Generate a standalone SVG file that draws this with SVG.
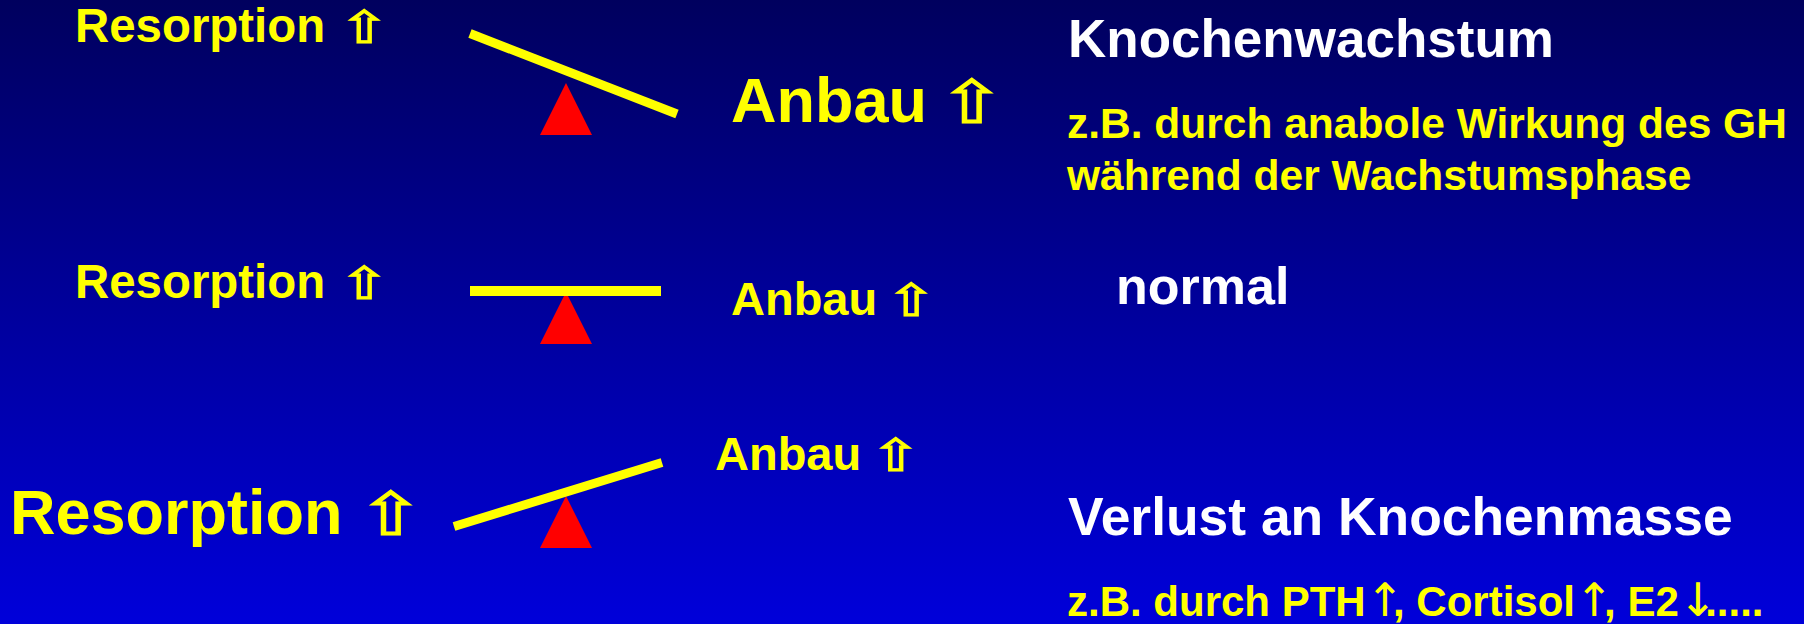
<svg xmlns="http://www.w3.org/2000/svg" width="1804" height="624" viewBox="0 0 1804 624">
  <defs>
    <linearGradient id="bg" x1="0" y1="0" x2="0" y2="1">
      <stop offset="0" stop-color="#00005E"/>
      <stop offset="1" stop-color="#0000DA"/>
    </linearGradient>
    <style>
      .t { font-family: "Liberation Sans", Arial, sans-serif; font-weight: bold; }
      .y { fill: #FFFF00; }
      .w { fill: #FFFFFF; }
      .arr { font-family: "DejaVu Sans", sans-serif; font-weight: normal; fill: #FFFF00; stroke: #FFFF00; stroke-width: 1.1; stroke-linejoin: miter; text-anchor: middle; }
      .sym { font-family: "DejaVu Sans", sans-serif; font-weight: normal; font-size: 46px; }
      .beam { stroke: #FFFF00; stroke-width: 9; stroke-linecap: butt; fill: none; }
      .pivot { fill: #FF0000; }
    </style>
  </defs>

  <rect x="0" y="0" width="1804" height="624" fill="url(#bg)"/>

  <!-- Row 1: formation outweighs resorption -->
  <g id="row-growth">
    <g id="growth-resorption">
      <text class="t y" x="75" y="42" font-size="47.4">Resorption</text>
      <text class="arr" transform="translate(364,42.5) scale(1.35,1)" font-size="44.6">⇧</text>
    </g>
    <g id="growth-seesaw">
      <polygon class="pivot" points="566,83 592,135 540,135"/>
      <line class="beam" x1="470" y1="33.5" x2="677" y2="114"/>
    </g>
    <g id="growth-anbau">
      <text class="t y" x="731" y="122" font-size="63">Anbau</text>
      <text class="arr" transform="translate(972,122.5) scale(1.35,1)" font-size="60">⇧</text>
    </g>
    <g id="growth-label">
      <text class="t w" x="1068" y="57" font-size="53">Knochenwachstum</text>
      <text class="t y" x="1067" y="138" font-size="42.5">z.B. durch anabole Wirkung des GH</text>
      <text class="t y" x="1067" y="190" font-size="42.5">während der Wachstumsphase</text>
    </g>
  </g>

  <!-- Row 2: balanced turnover -->
  <g id="row-normal">
    <g id="normal-resorption">
      <text class="t y" x="75" y="298" font-size="47.4">Resorption</text>
      <text class="arr" transform="translate(364,298.5) scale(1.35,1)" font-size="44.6">⇧</text>
    </g>
    <g id="normal-seesaw">
      <polygon class="pivot" points="566,292 592,344 540,344"/>
      <rect x="470" y="286" width="191" height="10" fill="#FFFF00"/>
    </g>
    <g id="normal-anbau">
      <text class="t y" x="731" y="315" font-size="47">Anbau</text>
      <text class="arr" transform="translate(911,315.5) scale(1.35,1)" font-size="44.6">⇧</text>
    </g>
    <g id="normal-label">
      <text class="t w" x="1116" y="304" font-size="52">normal</text>
    </g>
  </g>

  <!-- Row 3: resorption outweighs formation -->
  <g id="row-loss">
    <g id="loss-resorption">
      <text class="t y" x="10" y="534" font-size="63">Resorption</text>
      <text class="arr" transform="translate(391,534.5) scale(1.35,1)" font-size="60">⇧</text>
    </g>
    <g id="loss-seesaw">
      <polygon class="pivot" points="566,496 592,548 540,548"/>
      <line class="beam" x1="454" y1="526.5" x2="662" y2="462.5"/>
    </g>
    <g id="loss-anbau">
      <text class="t y" x="715" y="470" font-size="47">Anbau</text>
      <text class="arr" transform="translate(895.5,470.5) scale(1.35,1)" font-size="44.6">⇧</text>
    </g>
    <g id="loss-label">
      <text class="t w" x="1068" y="535" font-size="53.4">Verlust an Knochenmasse</text>
      <text class="t y" x="1067" y="616" font-size="42">z.B. durch PTH<tspan class="sym" letter-spacing="-11.2">↑</tspan>, Cortisol<tspan class="sym" letter-spacing="-9.5">↑</tspan>, E2<tspan class="sym" letter-spacing="-12.2">↓</tspan>.....</text>
    </g>
  </g>
</svg>
